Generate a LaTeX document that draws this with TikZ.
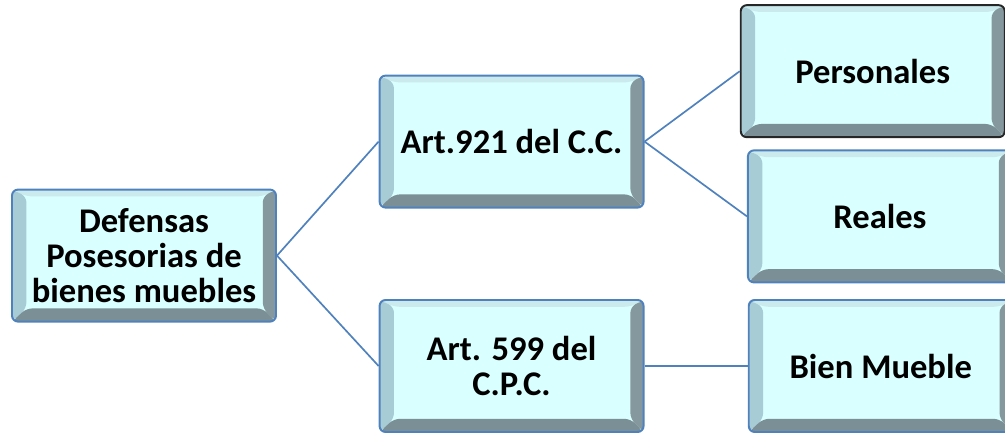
\documentclass[tikz,border=0pt]{standalone}
\usepackage{fontspec}
\setmainfont{Carlito}
\usetikzlibrary{positioning,calc}
\definecolor{boxfill}{RGB}{217,255,255}
\definecolor{boxline}{RGB}{79,129,189}
\definecolor{bevtop}{RGB}{202,234,238}
\definecolor{bevleft}{RGB}{168,204,214}
\definecolor{bevdark}{RGB}{122,143,150}

\tikzset{
	tema/.style={rectangle, rounded corners=0.15cm, draw=boxline, line width=1.4pt, fill=boxfill,
		minimum width=6.6cm, minimum height=3.3cm, align=center,
		font=\bfseries\fontsize{24.6pt}{25pt}\selectfont,
		path picture={
			\coordinate (bNW) at (path picture bounding box.north west);
			\coordinate (bNE) at (path picture bounding box.north east);
			\coordinate (bSW) at (path picture bounding box.south west);
			\coordinate (bSE) at (path picture bounding box.south east);
			\fill[bevtop] (bNW) -- (bNE) -- ($(bNE)+(-0.33,-0.17)$) -- ($(bNW)+(0.36,-0.17)$) -- cycle;
			\fill[bevleft] (bNW) -- (bSW) -- ($(bSW)+(0.36,0.33)$) -- ($(bNW)+(0.36,-0.17)$) -- cycle;
			\fill[bevdark] (bSW) -- (bSE) -- ($(bSE)+(-0.33,0.33)$) -- ($(bSW)+(0.36,0.33)$) -- cycle;
			\fill[bevdark!92!white] (bSE) -- (bNE) -- ($(bNE)+(-0.33,-0.17)$) -- ($(bSE)+(-0.33,0.33)$) -- cycle;
		}},
	rama/.style={draw=boxline, line width=1.2pt},
}

\begin{document}
\begin{tikzpicture}
	\useasboundingbox (0,0) rectangle (25.125,10.8);

	% raiz
	\node[tema] (def) at (3.6,4.41) {Defensas\\Posesorias de\\bienes muebles};

	% articulos
	\node[tema, right=2.54cm of def, yshift=2.85cm] (a921) {Art.921 del C.C.};
	\node[tema, right=2.54cm of def, yshift=-2.76cm] (a599) {Art. 599 del\\C.P.C.};

	% tipos
	\node[tema, draw=black!85, right=2.38cm of a921, yshift=1.76cm] (pers) {Personales};
	\node[tema, right=2.56cm of a921, yshift=-1.87cm] (real) {Reales};
	\node[tema, right=2.58cm of a599] (bien) {Bien Mueble};

	\draw[rama] (def.east) -- (a921.west);
	\draw[rama] (def.east) -- (a599.west);
	\draw[rama] (a921.east) -- (pers.west);
	\draw[rama] (a921.east) -- (real.west);
	\draw[rama] (a599.east) -- (bien.west);
\end{tikzpicture}
\end{document}
